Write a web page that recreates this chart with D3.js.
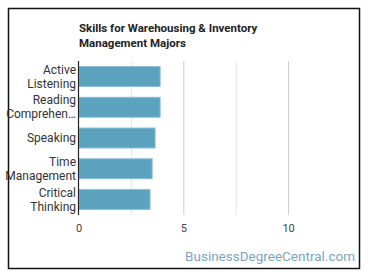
<!DOCTYPE html>
<html>
<head>
<meta charset="utf-8">
<script src="https://cdn.jsdelivr.net/npm/d3@7"></script>
<style>
  html, body { margin: 0; padding: 0; background: #fff; }
  svg { display: block; font-family: Roboto, "Noto Sans", sans-serif; }
</style>
</head>
<body>
<div id="chart"></div>
<script>
const skills = [
  ["Active", "Listening"],
  ["Reading", "Comprehen\u2026"],
  ["Speaking"],
  ["Time", "Management"],
  ["Critical", "Thinking"],
];
const scores = [3.87, 3.87, 3.63, 3.49, 3.39];
const xTicks = [0, 5, 10];
const gridTicks = [0, 2.5, 5, 7.5, 10];
const titleLines = ["Skills for Warehousing & Inventory", "Management Majors"];

const width = 370;
const height = 278;
const margin = { top: 61, left: 79, right: 29, bottom: 63 };

const svg = d3.select("#chart")
  .append("svg")
  .attr("width", width)
  .attr("height", height);

// outer frame
svg.append("rect")
  .attr("x", 8.5)
  .attr("y", 8.5)
  .attr("width", 351)
  .attr("height", 260)
  .attr("fill", "none")
  .attr("stroke", "#111")
  .attr("stroke-width", 1.5);

const x = d3.scaleLinear()
  .domain([0, 12.5])
  .range([margin.left, width - margin.right]);

const y = d3.scaleBand()
  .domain(d3.range(skills.length))
  .range([margin.top, height - margin.bottom])
  .paddingInner(0.35)
  .paddingOuter(0.18);

// grid
svg.append("g")
  .selectAll("line")
  .data(gridTicks.slice(1))
  .join("line")
  .attr("x1", (d) => x(d))
  .attr("x2", (d) => x(d))
  .attr("y1", margin.top)
  .attr("y2", height - margin.bottom)
  .attr("stroke", (d) => (d % 5 === 0 ? "#ccc" : "#e6e6e6"))
  .attr("stroke-width", 1);

// bars
svg.append("g")
  .selectAll("rect")
  .data(scores)
  .join("rect")
  .attr("x", x(0))
  .attr("y", (d, i) => y(i))
  .attr("width", (d) => x(d) - x(0))
  .attr("height", y.bandwidth())
  .attr("fill", "#5ba2bf")
  .attr("stroke", "#8fc1d6")
  .attr("stroke-width", 1);

// y axis line
svg.append("line")
  .attr("x1", x(0) - 0.5)
  .attr("x2", x(0) - 0.5)
  .attr("y1", margin.top)
  .attr("y2", height - margin.bottom)
  .attr("stroke", "#222")
  .attr("stroke-width", 1.2);

// category labels
const labels = svg.append("g")
  .selectAll("text")
  .data(skills)
  .join("text")
  .attr("text-anchor", "end")
  .attr("font-size", 12)
  .attr("fill", "#333")
  .attr("transform", (d, i) => `translate(${x(0) - 3},${y(i) + y.bandwidth() / 2})`);

labels.selectAll("tspan")
  .data((d) => d.map((t, j) => ({ t, j, n: d.length })))
  .join("tspan")
  .attr("x", 0)
  .attr("y", (d) => (d.j - (d.n - 1) / 2) * 14)
  .attr("dy", "0.35em")
  .text((d) => d.t);

// x tick labels
svg.append("g")
  .selectAll("text")
  .data(xTicks)
  .join("text")
  .attr("x", (d) => x(d))
  .attr("y", height - margin.bottom + 17)
  .attr("text-anchor", "middle")
  .attr("font-size", 11)
  .attr("fill", "#444")
  .text((d) => d);

// title
svg.append("g")
  .selectAll("text")
  .data(titleLines)
  .join("text")
  .attr("x", margin.left)
  .attr("y", (d, i) => 32 + i * 14.5)
  .attr("font-size", 11.5)
  .attr("font-weight", "bold")
  .attr("fill", "#222")
  .text((d) => d);

// watermark
svg.append("text")
  .attr("x", 355)
  .attr("y", 261)
  .attr("text-anchor", "end")
  .attr("font-size", 13.5)
  .attr("fill", "#79a7c3")
  .text("BusinessDegreeCentral.com");
</script>
</body>
</html>
